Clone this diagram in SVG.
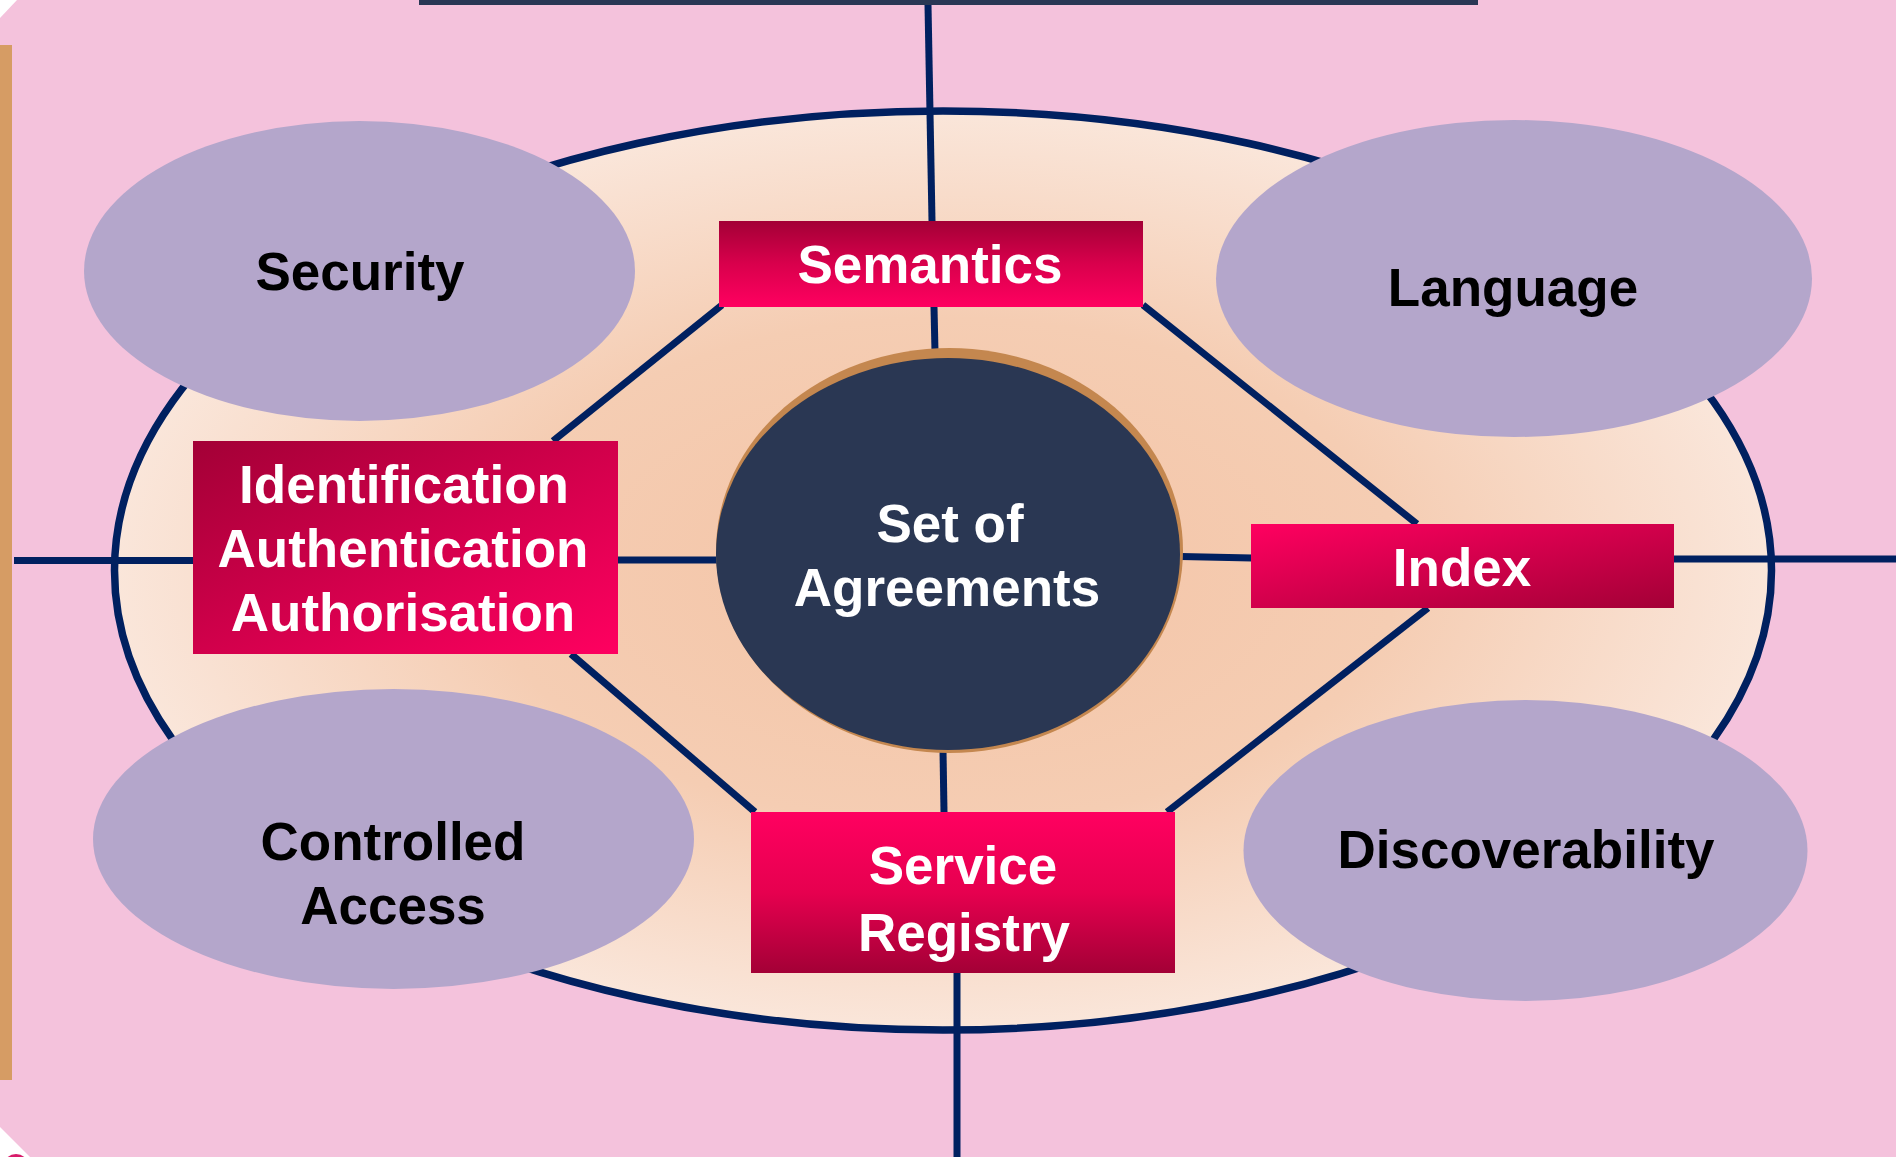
<svg xmlns="http://www.w3.org/2000/svg" width="1896" height="1157" viewBox="0 0 1896 1157">
<defs>
<radialGradient id="beige" cx="0.5" cy="0.5" r="0.5">
<stop offset="0" stop-color="#F4C4A6"/>
<stop offset="0.55" stop-color="#F5CDB3"/>
<stop offset="1" stop-color="#FAE6DA"/>
</radialGradient>
<linearGradient id="gDown" x1="0" y1="0" x2="0" y2="1">
<stop offset="0" stop-color="#A30036"/>
<stop offset="0.5" stop-color="#D9004C"/>
<stop offset="1" stop-color="#FF0060"/>
</linearGradient>
<linearGradient id="gUp" x1="0" y1="0" x2="0" y2="1">
<stop offset="0" stop-color="#FF0060"/>
<stop offset="0.5" stop-color="#E6004F"/>
<stop offset="1" stop-color="#A30036"/>
</linearGradient>
<linearGradient id="gDiagDark" x1="0" y1="0" x2="1" y2="1">
<stop offset="0" stop-color="#A30036"/>
<stop offset="1" stop-color="#FF0060"/>
</linearGradient>
<linearGradient id="gDiagBright" x1="0" y1="0" x2="1" y2="1">
<stop offset="0" stop-color="#FF0060"/>
<stop offset="1" stop-color="#A30036"/>
</linearGradient>
<style>
.con{stroke:#002060;stroke-width:7;fill:none;stroke-linecap:butt}
.oval{fill:#B4A6CB}
.lbl{font-family:"Liberation Sans",Arial,sans-serif;font-weight:bold;font-size:53px;text-anchor:middle}
.dark{fill:#000000}
.light{fill:#FFFFFF}
</style>
</defs>

<g id="background">
<rect x="0" y="0" width="1896" height="1157" fill="#F4C2DC"/>
<polygon points="0,0 17,0 0,18" fill="#FFFFFF"/>
<polygon points="0,1127 30,1157 0,1157" fill="#FFFFFF"/>
<circle cx="16" cy="1167" r="13" fill="#D81B6A"/>
<rect x="0" y="45" width="12" height="1035" fill="#D69C64"/>
<rect x="419" y="0" width="1059" height="5" fill="#293755"/>
</g>

<g id="outer-ellipse">
<ellipse cx="943" cy="570.5" rx="828.5" ry="459.5" fill="url(#beige)" stroke="#002060" stroke-width="7.5"/>
</g>

<g id="connectors">
<line class="con" x1="928" y1="5" x2="932" y2="221"/>
<line class="con" x1="934" y1="307" x2="935" y2="352"/>
<line class="con" x1="722" y1="305" x2="553" y2="441"/>
<line class="con" x1="1143" y1="305" x2="1417" y2="524"/>
<line class="con" x1="14" y1="560.5" x2="193" y2="560.5"/>
<line class="con" x1="618" y1="560" x2="718" y2="560"/>
<line class="con" x1="1181" y1="556.5" x2="1252" y2="558"/>
<line class="con" x1="1674" y1="559" x2="1896" y2="559"/>
<line class="con" x1="571" y1="654" x2="755" y2="812"/>
<line class="con" x1="1428" y1="608" x2="1167" y2="812"/>
<line class="con" x1="943" y1="750" x2="944" y2="812"/>
<line class="con" x1="957" y1="973" x2="957" y2="1157"/>
</g>

<g id="security">
<ellipse class="oval" cx="359.5" cy="271" rx="275.5" ry="150"/>
<text class="lbl dark" x="360" y="290">Security</text>
</g>

<g id="language">
<ellipse class="oval" cx="1514" cy="278.5" rx="298" ry="158.5"/>
<text class="lbl dark" x="1513" y="306">Language</text>
</g>

<g id="controlled-access">
<ellipse class="oval" cx="393.5" cy="839" rx="300.5" ry="150"/>
<text class="lbl dark" x="393" y="860">Controlled</text>
<text class="lbl dark" x="393" y="924">Access</text>
</g>

<g id="discoverability">
<ellipse class="oval" cx="1525.5" cy="850.5" rx="282" ry="150.5"/>
<text class="lbl dark" x="1526" y="868">Discoverability</text>
</g>

<g id="semantics">
<rect x="719" y="221" width="424" height="86" fill="url(#gDown)"/>
<text class="lbl light" x="930" y="283">Semantics</text>
</g>

<g id="iaa">
<rect x="193" y="441" width="425" height="213" fill="url(#gDiagDark)"/>
<text class="lbl light" x="404" y="503">Identification</text>
<text class="lbl light" x="403" y="567">Authentication</text>
<text class="lbl light" x="403" y="631">Authorisation</text>
</g>

<g id="index">
<rect x="1251" y="524" width="423" height="84" fill="url(#gDiagBright)"/>
<text class="lbl light" x="1462" y="586">Index</text>
</g>

<g id="service-registry">
<rect x="751" y="812" width="424" height="161" fill="url(#gUp)"/>
<text class="lbl light" x="963" y="884">Service</text>
<text class="lbl light" x="964" y="951">Registry</text>
</g>

<g id="set-of-agreements">
<ellipse cx="949.5" cy="550.5" rx="233.5" ry="202.5" fill="#C4874F"/>
<ellipse cx="948" cy="554" rx="232" ry="196" fill="#2A3753"/>
<text class="lbl light" x="950" y="542">Set of</text>
<text class="lbl light" x="947" y="606">Agreements</text>
</g>
</svg>
